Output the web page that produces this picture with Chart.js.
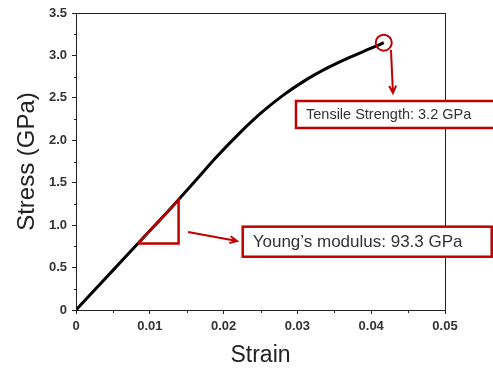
<!DOCTYPE html>
<html>
<head>
<meta charset="utf-8">
<script src="https://cdn.jsdelivr.net/npm/chart.js@4.4.0/dist/chart.umd.min.js"></script>
<style>
  html, body { margin: 0; padding: 0; background: #fff; }
</style>
</head>
<body>
<canvas id="stressStrain" width="493" height="369"></canvas>
<script>
// Stress-strain curve
const strain = [0, 0.005, 0.01, 0.013, 0.016, 0.019, 0.022, 0.025, 0.028, 0.031, 0.034, 0.037, 0.04, 0.0417];
const stress = [0, 0.467, 0.933, 1.215, 1.505, 1.80, 2.07, 2.316, 2.526, 2.703, 2.85, 2.975, 3.085, 3.15];

// Slope triangle on the linear part
const youngsModulus = 93.3;          // GPa
const slopeStrain = [0.0084, 0.0139];
const tensileStrength = 3.2;         // GPa

const xTickLabels = ['0', '0.01', '0.02', '0.03', '0.04', '0.05'];
const yTickLabels = ['0', '0.5', '1.0', '1.5', '2.0', '2.5', '3.0', '3.5'];

const RED = '#c00000';
const INK = '#222';
const FONT = '"Liberation Sans", Arial, sans-serif';

const curve = strain.map((s, i) => ({ x: s, y: stress[i] }));
const [s0, s1] = slopeStrain;
const triangle = [
  { x: s0, y: youngsModulus * s0 },
  { x: s1, y: youngsModulus * s0 },
  { x: s1, y: youngsModulus * s1 },
  { x: s0, y: youngsModulus * s0 }
];
const peak = curve[curve.length - 1];

// Callout boxes and arrows, placed in data units: box = [x0, x1, yTop, yBottom]
const callouts = [
  {
    text: `Young\u2019s modulus: ${youngsModulus} GPa`,
    size: 17,
    box: [0.02259, 0.05633, 0.982, 0.628],
    arrow: [0.01518, 0.919, 0.02182, 0.813]
  },
  {
    text: `Tensile Strength: ${tensileStrength} GPa`,
    size: 14.5,
    box: [0.02981, 0.0575, 2.463, 2.145],
    arrow: [0.04268, 3.064, 0.04295, 2.557]
  }
];

function drawArrow(ctx, x1, y1, x2, y2) {
  const a = Math.atan2(y2 - y1, x2 - x1);
  const head = 8, spread = 0.45;
  ctx.beginPath();
  ctx.moveTo(x1, y1);
  ctx.lineTo(x2, y2);
  ctx.moveTo(x2 - head * Math.cos(a - spread), y2 - head * Math.sin(a - spread));
  ctx.lineTo(x2, y2);
  ctx.lineTo(x2 - head * Math.cos(a + spread), y2 - head * Math.sin(a + spread));
  ctx.stroke();
}

const framePlugin = {
  id: 'frameAndCallouts',
  afterDraw(chart) {
    const { ctx, chartArea: ca, scales: { x, y } } = chart;
    ctx.save();

    // closed frame + minor ticks
    ctx.strokeStyle = INK;
    ctx.lineWidth = 1;
    ctx.strokeRect(ca.left + 0.5, ca.top + 0.5, ca.right - ca.left, ca.bottom - ca.top);
    ctx.beginPath();
    for (let v = 0.25; v < 3.5; v += 0.5) {
      const py = Math.round(y.getPixelForValue(v)) + 0.5;
      ctx.moveTo(ca.left - 2, py);
      ctx.lineTo(ca.left, py);
    }
    for (let v = 0.005; v < 0.05; v += 0.01) {
      const px = Math.round(x.getPixelForValue(v)) + 0.5;
      ctx.moveTo(px, ca.bottom);
      ctx.lineTo(px, ca.bottom + 3);
    }
    ctx.stroke();

    // callouts
    ctx.strokeStyle = RED;
    callouts.forEach(c => {
      ctx.lineWidth = 2;
      drawArrow(ctx,
        x.getPixelForValue(c.arrow[0]), y.getPixelForValue(c.arrow[1]),
        x.getPixelForValue(c.arrow[2]), y.getPixelForValue(c.arrow[3]));

      const left = x.getPixelForValue(c.box[0]);
      const right = x.getPixelForValue(c.box[1]);
      const top = y.getPixelForValue(c.box[2]);
      const bottom = y.getPixelForValue(c.box[3]);
      ctx.fillStyle = '#fff';
      ctx.fillRect(left, top, right - left, bottom - top);
      ctx.lineWidth = 2.5;
      ctx.strokeRect(left, top, right - left, bottom - top);

      ctx.fillStyle = '#333';
      ctx.font = `${c.size}px ${FONT}`;
      ctx.textBaseline = 'middle';
      ctx.textAlign = 'left';
      ctx.fillText(c.text, left + 10, (top + bottom) / 2 + 1);
    });
    ctx.restore();
  }
};

new Chart(document.getElementById('stressStrain'), {
  type: 'line',
  data: {
    datasets: [
      {
        data: curve,
        borderColor: '#000',
        borderWidth: 3,
        pointRadius: 0,
        cubicInterpolationMode: 'monotone',
        order: 3
      },
      {
        data: triangle,
        borderColor: RED,
        borderWidth: 2.5,
        pointRadius: 0,
        tension: 0,
        order: 2
      },
      {
        data: [peak],
        showLine: false,
        pointRadius: 8,
        pointBorderWidth: 2,
        pointBorderColor: RED,
        pointBackgroundColor: 'rgba(0,0,0,0)',
        order: 1
      }
    ]
  },
  options: {
    responsive: false,
    animation: false,
    layout: { padding: { top: 13, right: 48, left: 0, bottom: 0 } },
    plugins: { legend: { display: false }, tooltip: { enabled: false } },
    scales: {
      x: {
        type: 'linear',
        min: 0,
        max: 0.05,
        grid: { drawOnChartArea: false, tickLength: 4, color: INK },
        border: { color: INK },
        ticks: {
          stepSize: 0.01,
          padding: 5,
          color: '#333',
          font: { family: FONT, size: 13, weight: 'bold' },
          callback: (v, i) => xTickLabels[i] ?? ''
        },
        title: {
          display: true,
          text: 'Strain',
          color: INK,
          padding: 0,
          font: { family: FONT, size: 23 }
        },
        afterFit: s => { s.height = 59; }
      },
      y: {
        min: 0,
        max: 3.5,
        grid: { drawOnChartArea: false, tickLength: 4, color: INK },
        border: { color: INK },
        ticks: {
          stepSize: 0.5,
          padding: 5,
          color: '#333',
          font: { family: FONT, size: 13, weight: 'bold' },
          callback: (v, i) => yTickLabels[i] ?? ''
        },
        title: {
          display: true,
          text: 'Stress (GPa)',
          color: INK,
          padding: { top: 13, bottom: 0 },
          font: { family: FONT, size: 24 }
        },
        afterFit: s => { s.width = 76; }
      }
    }
  },
  plugins: [framePlugin]
});
</script>
</body>
</html>
